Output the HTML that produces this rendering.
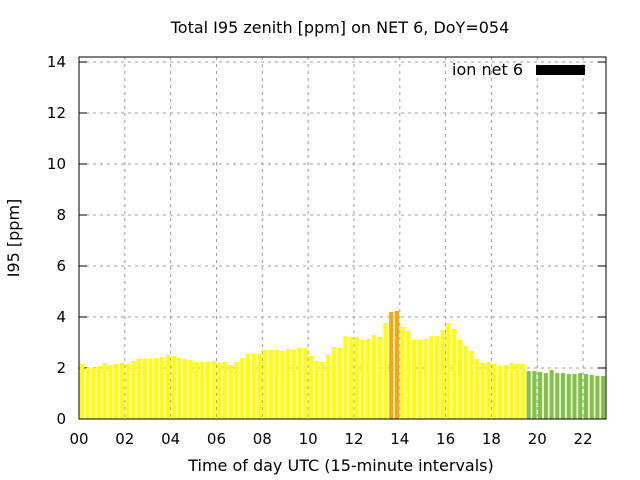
<!DOCTYPE html>
<html><head><meta charset="utf-8"><style>
html,body{margin:0;padding:0;background:#fff;}
svg{display:block;font-family:"DejaVu Sans","Liberation Sans",sans-serif;}
</style></head><body>
<svg id="chart" width="640" height="480" viewBox="0 0 640 480" xmlns="http://www.w3.org/2000/svg"></svg>
<script>
const values = [2.16,2.0,2.0,2.08,2.2,2.12,2.16,2.2,2.16,2.27,2.37,2.37,2.37,2.39,2.43,2.51,2.47,2.39,2.35,2.31,2.24,2.24,2.24,2.27,2.2,2.24,2.12,2.24,2.39,2.55,2.55,2.55,2.71,2.71,2.71,2.67,2.75,2.71,2.78,2.78,2.47,2.27,2.24,2.51,2.82,2.78,3.25,
3.22,3.22,3.1,3.14,3.29,3.22,3.76,4.2,4.24,3.61,3.45,3.1,3.1,3.14,3.25,3.25,3.49,3.76,3.53,3.1,2.86,2.67,2.35,2.2,2.24,2.16,2.08,2.12,2.2,2.16,2.16,
1.88,1.88,1.84,1.8,1.92,1.8,1.8,1.76,1.76,1.8,1.76,1.73,1.69,1.69];
const yTicks = [0,2,4,6,8,10,12,14];
const xTickHours = [0,2,4,6,8,10,12,14,16,18,20,22];
const xTickLabels = ["00","02","04","06","08","10","12","14","16","18","20","22"];
const greenStart = 78;

const svg = document.getElementById('chart');
const NS = 'http://www.w3.org/2000/svg';
const L=79, R=606, T=57, B=419;
const step = (R-L)/92;
const xPos = i => L + i*step;
const yPos = v => B - v*25.5;
function mk(tag, attrs, parent){const e=document.createElementNS(NS,tag);for(const k in attrs)e.setAttribute(k,attrs[k]);(parent||svg).appendChild(e);return e;}

const grid = mk('g',{});


yTicks.forEach(v=>{
  if(v>0){const l=mk('line',{x1:L,x2:R,y1:yPos(v),y2:yPos(v),stroke:'#a0a0a0','stroke-dasharray':'3,4'},grid);
  
  }
  const tk=mk('line',{x1:L,x2:L+8,y1:yPos(v),y2:yPos(v),stroke:'#000'});
  
  
  const tk2=mk('line',{x1:R-8,x2:R,y1:yPos(v),y2:yPos(v),stroke:'#000'});
  
  
  const t=mk('text',{x:L-13,y:yPos(v)+5,'text-anchor':'end','font-size':'15'});
  t.textContent=v;
  
  
});
xTickHours.forEach((h,k)=>{
  const x=xPos(h*4);
  if(h>0){const l=mk('line',{x1:x,x2:x,y1:T,y2:B,stroke:'#a0a0a0','stroke-dasharray':'3,4'},grid);
  
  }
  const t=mk('text',{x:x,y:444,'text-anchor':'middle','font-size':'15'});
  t.textContent=xTickLabels[k];
  
  
});

values.forEach((v,i)=>{
  const col = i>=greenStart ? '#80c342' : (v>=4 ? '#ffa500' : '#ffff00');
  const r=mk('rect',{x:xPos(i)+0.8,y:yPos(v),width:step-1.6,height:B-yPos(v),fill:col});
  
  
});

const frame=mk('rect',{x:L,y:T,width:R-L,height:B-T,fill:'none',stroke:'#000','stroke-width':'1'});



const title=mk('text',{x:340,y:33,'text-anchor':'middle','font-size':'16'});
title.textContent='Total I95 zenith [ppm] on NET 6, DoY=054';



const xl=mk('text',{x:341,y:471,'text-anchor':'middle','font-size':'16'});
xl.textContent='Time of day UTC (15-minute intervals)';



const yl=mk('text',{x:19,y:238,'text-anchor':'middle','font-size':'16',transform:'rotate(-90 19 238)'});
yl.textContent='I95 [ppm]';



const lt=mk('text',{x:523,y:75,'text-anchor':'end','font-size':'16'});
lt.textContent='ion net 6';


const lr=mk('rect',{x:536,y:65,width:49,height:10,fill:'#000'});


</script>
</body></html>
